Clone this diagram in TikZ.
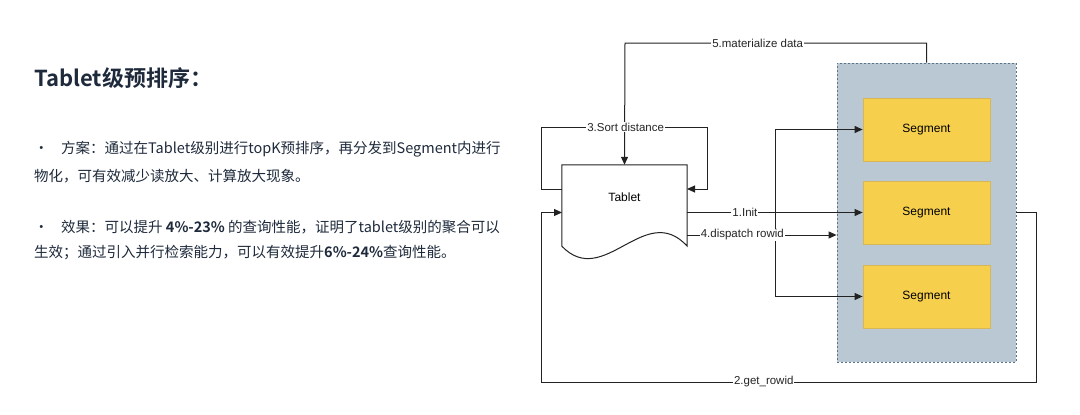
\documentclass[tikz,border=0pt]{standalone}
\usepackage{fontspec}
\setmainfont{Liberation Sans}
\newfontfamily\cjk{Noto Sans CJK SC}[BoldFont={* Bold}]
\usetikzlibrary{arrows.meta}
\definecolor{txt}{HTML}{1E2A3B}
\definecolor{contfill}{HTML}{BAC8D3}
\definecolor{contline}{HTML}{5A7389}
\definecolor{segfill}{HTML}{F6D04D}
\definecolor{segline}{HTML}{D6B656}
\definecolor{ln}{HTML}{222222}
\tikzset{
  arr/.style={draw=ln, line width=1pt, -{Triangle[length=8pt,width=7pt]}},
  lbl/.style={fill=white, inner sep=1pt, font=\fontsize{11.5}{12}\selectfont, text=black!85},
  seg/.style={draw=segline, fill=segfill, line width=0.8pt, minimum width=127pt, minimum height=63pt, inner sep=0pt, font=\fontsize{12}{14}\selectfont},
  cont/.style={draw=contline, fill=contfill, dashed, dash pattern=on 2pt off 2pt, line width=0.8pt, minimum width=179pt, minimum height=299pt, inner sep=0pt},
  body/.style={anchor=base west, inner sep=0pt, text=txt, font=\cjk\fontsize{14.5}{16}\selectfont},
}
\begin{document}
\begin{tikzpicture}[x=1pt,y=-1pt]
\useasboundingbox (0,0) rectangle (1080,415);
% left text
\node[anchor=base west, inner sep=0pt, text=txt, font=\cjk\bfseries\fontsize{22}{24}\selectfont] (title) at (34,86) {Tablet级预排序：};
\node[body] (b1) at (34,153) {•};
\node[body] (l1) at (61,153) {方案：通过在Tablet级别进行topK预排序，再分发到Segment内进行};
\node[body] (l2) at (34,181) {物化，可有效减少读放大、计算放大现象。};
\node[body] (b2) at (34,232) {•};
\node[body] (l3) at (61,232) {效果：可以提升 \textbf{4\%-23\%} 的查询性能，证明了tablet级别的聚合可以};
\node[body] (l4) at (34,257) {生效；通过引入并行检索能力，可以有效提升\textbf{6\%-24\%}查询性能。};
% container and segments
\node[cont] (cont) at (926.5,212.5) {};
\node[seg] (seg1) at (926.5,129.5) {Segment};
\node[seg] (seg2) at (926.5,212.5) {Segment};
\node[seg] (seg3) at (926.5,296.5) {Segment};
% tablet document
\node[minimum width=125pt, minimum height=81pt, inner sep=0pt] (tab) at (624.5,205.5) {};
\draw[ln, line width=1pt, fill=white] (tab.north west) -- (tab.north east) -- (tab.south east)
  .. controls (645,200) and (604,290) .. (tab.south west) -- cycle;
\node[font=\fontsize{12}{14}\selectfont] (tabt) at (624.5,197) {Tablet};
% coordinates
\coordinate (s3l) at (562,189);
\coordinate (s3r) at (687,189);
\coordinate (i1) at (687,212.5);
\coordinate (j1) at (775,212.5);
\coordinate (d4) at (687,235);
\coordinate (g2) at (562,212.5);
% 5.materialize data
\draw[arr] (cont.north) |- node[lbl, pos=0.78]{5.materialize data} (625,43) -- (tab.north);
% 3.Sort distance
\draw[arr] (s3l) -- (541,189) |- node[lbl, pos=0.755]{3.Sort distance} (707,127) |- (s3r);
% 1.Init
\draw[arr] (i1) -- node[lbl, pos=0.33]{1.Init} (seg2.west);
\draw[arr] (j1) |- (seg1.west);
\draw[arr] (j1) |- (seg3.west);
% 4.dispatch rowid
\draw[arr] (d4) -- node[lbl, pos=0.37]{4.dispatch rowid} (cont.west |- d4);
% 2.get_rowid
\draw[arr] (cont.east |- seg2) -- (1036,212.5) |- node[lbl, pos=0.775]{2.get\_rowid} (541,382) |- (g2);
\end{tikzpicture}
\end{document}
